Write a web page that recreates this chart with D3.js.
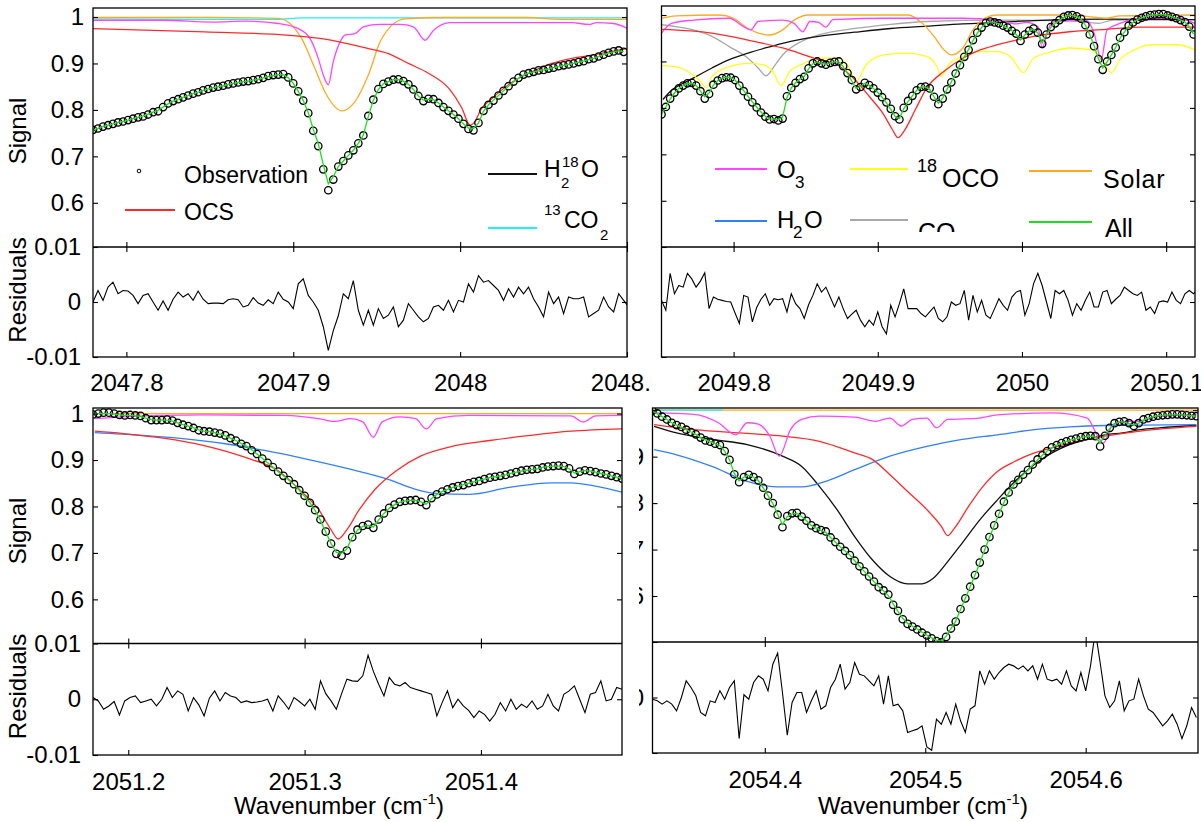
<!DOCTYPE html>
<html>
<head>
<meta charset="utf-8">
<script src="https://cdn.jsdelivr.net/npm/d3@7"></script>
<style>
  body { margin: 0; background: #fff; }
  svg { display: block; }
</style>
</head>
<body>
<svg id="chart" width="1201" height="822"></svg>
<script>

/*
 *  Spectral fit windows: observation, fitted total ("All"), molecular contributions
 *  and the residuals (residuals are stored in units of 1e-3).
 */

// shared tick values / labels
var sigTicks = [0.6, 0.7, 0.8, 0.9, 1];
var sigTickLabels = ["0.6", "0.7", "0.8", "0.9", "1"];
var resTicks = [-10, 0, 10];
var resTickLabels = ["-0.01", "0", "0.01"];
var resDomain = [-10, 10];

// ---------- window 1 : 2047.78 - 2048.10 ----------
var tlStart = 2047.78, tlStep = 0.003;
var tlTicks = [2047.8, 2047.9, 2048, 2048.1];
var tlTickLabels = ["2047.8", "2047.9", "2048", "2048.1"];
var tlObs = [
  .757,.760,.764,.767,.770,.773,.775,.778,.781,.784,
  .786,.790,.795,.797,.806,.814,.819,.823,.827,.831,
  .835,.838,.842,.845,.848,.850,.852,.855,.857,.859,
  .861,.862,.864,.866,.869,.873,.875,.876,.877,.870,
  .857,.840,.820,.793,.755,.722,.672,.627,.650,.678,
  .690,.702,.713,.728,.745,.787,.822,.845,.856,.861,
  .865,.866,.862,.855,.844,.830,.819,.824,.823,.815,
  .806,.798,.790,.781,.770,.759,.756,.772,.798,.811,
  .820,.831,.841,.851,.861,.869,.876,.879,.882,.885,
  .886,.889,.891,.894,.896,.898,.900,.903,.905,.909,
  .911,.915,.919,.923,.926,.928,.925];
var tlFit = [
  .757,.760,.764,.767,.770,.773,.775,.778,.781,.784,
  .787,.791,.795,.799,.806,.813,.819,.823,.827,.831,
  .835,.838,.842,.845,.848,.850,.852,.855,.857,.859,
  .861,.862,.864,.866,.869,.872,.874,.876,.876,.869,
  .857,.840,.820,.794,.758,.727,.682,.641,.656,.678,
  .690,.702,.713,.728,.746,.786,.821,.844,.856,.861,
  .865,.865,.862,.855,.844,.830,.821,.823,.822,.815,
  .806,.798,.790,.781,.770,.761,.760,.772,.797,.811,
  .821,.831,.841,.851,.860,.868,.875,.879,.882,.884,
  .886,.888,.891,.893,.896,.898,.900,.903,.905,.908,
  .911,.915,.919,.922,.925,.927,.926];
var tlRes = [
  0,2.1,.3,2.7,3.6,1.5,2.1,2.0,1.2,-.3,
  1.2,1.5,0,-1.5,.2,-1.5,.5,1.8,.9,1.5,
  .3,2.0,.5,-.3,-.2,-.2,-.3,.4,.6,.4,
  -.9,-.6,.8,-.2,-.6,.4,-.3,1.8,.5,0,
  -1.2,3.3,4.2,1.2,0,-1.5,-4.5,-8.8,-5.2,-2.5,
  1.5,.6,3.9,-1.5,-4.2,-1.5,-4.2,-1.2,-3,-2.4,
  -.9,-4.5,-3.3,-.3,-1.5,-2.7,-3.6,-3.0,-.9,-.6,
  -1.5,.3,-1.8,.3,0,3.3,1.8,4.8,3.6,3.9,
  3.0,2.1,.3,2.4,.9,2.7,1.5,2.7,.6,-.9,
  -2.7,1.8,-.3,.9,-2.1,.9,.6,.6,.9,-2.7,
  -2.1,-1.5,.9,-.9,-1.8,1.5,.3,-.9];
var tlOCS = [[2047.780,.975],[2047.847,.968],[2047.896,.961],[2047.920,.952],[2047.945,.932],[2047.957,.921],
  [2047.969,.900],[2047.981,.879],[2047.994,.843],[2048.001,.804],[2048.006,.767],[2048.008,.771],[2048.013,.804],
  [2048.018,.821],[2048.030,.857],[2048.043,.882],[2048.055,.900],[2048.067,.911],[2048.079,.918],[2048.100,.932]];
var tlO3 = [[2047.780,.993],[2047.822,.993],[2047.852,.989],[2047.871,.991],[2047.891,.986],[2047.903,.975],
  [2047.910,.954],[2047.915,.911],[2047.918,.875],[2047.921,.854],[2047.924,.904],[2047.928,.946],[2047.931,.961],
  [2047.937,.964],[2047.942,.979],[2047.952,.984],[2047.964,.984],[2047.972,.979],[2047.979,.950],[2047.984,.971],
  [2047.994,.988],[2048.018,.988],[2048.043,.988],[2048.067,.988],[2048.077,.984],[2048.082,.988],[2048.092,.986],[2048.100,.976]];
var tlSolar = [[2047.780,.999],[2047.850,.999],[2047.891,.997],[2047.898,.986],[2047.905,.954],[2047.913,.889],
  [2047.920,.832],[2047.929,.798],[2047.937,.818],[2047.945,.875],[2047.952,.946],[2047.959,.982],[2047.967,.996],
  [2047.990,.999],[2048.040,.999],[2048.060,.995],[2048.100,.995]];
var tl13CO2 = [[2047.780,.996],[2047.840,.995],[2047.890,.995],[2047.905,.998],[2048.100,.998]];

// ---------- window 2 : 2049.75 - 2050.12 ----------
var trStart = 2049.75, trStep = 0.003;
var trTicks = [2049.8, 2049.9, 2050, 2050.1];
var trTickLabels = ["2049.8", "2049.9", "2050", "2050.1"];
var trObs = [
  .786,.802,.820,.833,.842,.848,.853,.854,.848,.836,
  .820,.830,.850,.859,.864,.866,.865,.860,.848,.836,
  .824,.812,.801,.790,.781,.775,.776,.773,.777,.825,
  .843,.854,.862,.867,.885,.896,.900,.896,.893,.897,
  .899,.900,.890,.875,.860,.840,.845,.854,.849,.842,
  .833,.823,.812,.798,.782,.775,.800,.815,.826,.838,
  .845,.846,.842,.824,.808,.820,.840,.855,.874,.892,
  .910,.925,.946,.962,.973,.983,.986,.984,.982,.977,
  .973,.966,.960,.944,.958,.966,.971,.962,.938,.958,
  .974,.982,.989,.996,.999,1.000,.997,.992,.978,.958,
  .933,.905,.882,.900,.914,.930,.951,.963,.977,.984,
  .990,.994,.997,1.000,1.001,1.002,1.002,.999,.996,.993,
  .989,.985,.975,.958];
var trFit = [
  .786,.802,.819,.832,.842,.848,.852,.853,.848,.836,
  .824,.832,.849,.859,.864,.866,.865,.860,.849,.837,
  .825,.813,.802,.791,.782,.776,.776,.775,.780,.822,
  .843,.854,.862,.868,.884,.895,.899,.896,.894,.897,
  .899,.899,.889,.874,.858,.842,.846,.853,.849,.842,
  .833,.823,.811,.797,.782,.777,.798,.814,.826,.838,
  .845,.845,.840,.824,.810,.821,.840,.856,.874,.892,
  .910,.926,.945,.961,.973,.982,.985,.984,.981,.977,
  .972,.966,.958,.946,.957,.966,.970,.961,.940,.958,
  .973,.982,.989,.995,.999,.999,.996,.991,.978,.958,
  .934,.906,.886,.899,.914,.930,.950,.963,.976,.984,
  .990,.994,.997,.999,1.000,1.001,1.001,.999,.996,.993,
  .989,.985,.975,.959];
var trRes = [
  .3,-1.5,5.2,1.5,3.0,2.7,5.2,4.2,2.7,3.8,
  5.3,-1.2,.9,.5,.3,.1,0,-2.0,-3.9,1.2,
  .9,-3.6,-1.0,.5,1.5,-.6,.6,.4,.6,-1.8,
  1.5,-.3,-1.2,-3,-.5,1.2,3.3,1.8,2.7,.9,
  -.9,.9,-1.2,-3,-2.2,-1.5,-3.3,-4.5,-3.3,-4.2,
  -1.8,-4.5,-5.8,-.6,-2.7,-.3,2.4,-1.2,-1.2,-1.2,
  -2.1,-2.7,-1.8,-.9,-3,-3.6,-2.7,0,-.6,-.3,
  2.1,-3.3,1.2,-1.8,.3,-2.4,-3,-1.2,.6,-.6,
  -1.5,.9,1.8,2.1,-2.4,-.3,3.3,5.2,3.0,0,
  -3,2.1,1.5,2.1,.3,-2.4,-.3,-1.5,.3,1.8,
  -.9,-.9,1.8,2.1,-.3,.5,1.2,2.7,2.1,1.5,
  1.2,1.8,-1.5,-.9,-2.1,0,.2,0,1.8,.3,
  -.3,1.5,2.1,1.5,2.4];
var trOCS = [[2049.750,.969],[2049.785,.961],[2049.810,.946],[2049.834,.929],[2049.859,.904],[2049.872,.893],
  [2049.884,.861],[2049.894,.825],[2049.904,.786],[2049.910,.754],[2049.914,.736],[2049.919,.754],[2049.926,.796],
  [2049.934,.843],[2049.946,.879],[2049.959,.907],[2049.971,.925],[2049.983,.936],[2049.996,.946],[2050.008,.954],
  [2050.033,.964],[2050.058,.969],[2050.083,.974],[2050.120,.974]];
var trO3 = [[2049.750,.961],[2049.757,.982],[2049.772,.989],[2049.797,.993],[2049.807,.975],[2049.812,.968],
  [2049.817,.986],[2049.834,.989],[2049.842,.982],[2049.848,.964],[2049.853,.986],[2049.859,.984],[2049.864,.974],
  [2049.869,.990],[2049.909,.993],[2049.959,.993],[2049.983,.988],[2049.996,.981],[2050.003,.984],[2050.011,.975],
  [2050.014,.929],[2050.018,.968],[2050.023,.986],[2050.045,.988],[2050.050,.961],[2050.055,.904],[2050.059,.968],
  [2050.068,.982],[2050.083,.993],[2050.108,.993],[2050.120,.982]];
var trSolar = [[2049.750,.993],[2049.760,.998],[2049.790,1.0],[2049.800,.993],[2049.810,.971],[2049.825,.957],
  [2049.834,.968],[2049.842,.989],[2049.852,1.0],[2049.921,1.0],[2049.931,.982],[2049.939,.954],[2049.946,.925],
  [2049.951,.914],[2049.959,.929],[2049.966,.968],[2049.974,.993],[2049.983,1.0],[2050.033,1.0],[2050.048,.996],
  [2050.058,.993],[2050.068,.998],[2050.120,1.0]];
var tr18OCO = [[2049.750,.891],[2049.760,.889],[2049.770,.875],[2049.777,.857],[2049.781,.843],[2049.785,.868],
  [2049.797,.889],[2049.810,.896],[2049.820,.893],[2049.827,.879],[2049.833,.848],[2049.839,.879],[2049.849,.896],
  [2049.859,.907],[2049.872,.907],[2049.879,.893],[2049.885,.857],[2049.892,.893],[2049.904,.914],[2049.919,.918],
  [2049.934,.911],[2049.941,.889],[2049.944,.868],[2049.949,.893],[2049.959,.911],[2049.971,.921],[2049.983,.921],
  [2049.993,.907],[2050.001,.876],[2050.008,.907],[2050.021,.921],[2050.033,.929],[2050.048,.925],[2050.055,.907],
  [2050.062,.876],[2050.068,.904],[2050.078,.925],[2050.090,.936],[2050.108,.936],[2050.120,.925]];
var trCO = [[2049.750,.979],[2049.760,.975],[2049.772,.968],[2049.785,.954],[2049.797,.932],[2049.810,.907],
  [2049.817,.886],[2049.8225,.869],[2049.828,.889],[2049.834,.914],[2049.847,.943],[2049.859,.957],[2049.884,.971],
  [2049.909,.980],[2049.934,.986],[2049.983,.989],[2050.033,.988],[2050.053,.982],[2050.063,.989],[2050.120,.990]];
var trH218O = [[2049.751,.818],[2049.755,.832],[2049.772,.864],[2049.785,.886],[2049.797,.904],[2049.810,.918],
  [2049.822,.929],[2049.834,.939],[2049.859,.954],[2049.884,.963],[2049.909,.971],[2049.934,.976],[2049.959,.981],
  [2049.983,.984],[2050.008,.988],[2050.058,.991],[2050.120,.990]];

// ---------- window 3 : 2051.18 - 2051.48 ----------
var blStart = 2051.18, blStep = 0.003;
var blTicks = [2051.2, 2051.3, 2051.4];
var blTickLabels = ["2051.2", "2051.3", "2051.4"];
var blObs = [
  .998,1.000,1.002,1.002,1.000,.997,.996,.997,.996,.995,
  .990,.986,.986,.986,.987,.985,.980,.976,.973,.969,
  .964,.962,.961,.959,.957,.953,.947,.942,.935,.930,
  .921,.913,.903,.894,.885,.875,.866,.857,.848,.835,
  .823,.808,.792,.772,.746,.720,.698,.694,.705,.734,
  .750,.758,.761,.754,.772,.785,.797,.804,.810,.812,
  .813,.814,.810,.803,.818,.826,.832,.837,.841,.844,
  .846,.850,.853,.855,.859,.862,.864,.866,.868,.871,
  .874,.877,.879,.880,.881,.884,.886,.887,.888,.887,
  .882,.870,.875,.878,.876,.874,.871,.869,.866,.863,
  .860];
var blFit = [
  .999,1.000,1.000,1.000,.999,.997,.996,.996,.995,.994,
  .990,.987,.986,.986,.986,.984,.980,.976,.973,.969,
  .965,.962,.961,.959,.956,.952,.947,.942,.936,.930,
  .922,.913,.904,.894,.885,.875,.866,.857,.847,.835,
  .822,.808,.791,.770,.745,.720,.701,.699,.709,.734,
  .749,.757,.759,.756,.771,.785,.796,.804,.809,.812,
  .813,.813,.810,.805,.817,.826,.832,.837,.841,.844,
  .847,.850,.853,.856,.859,.862,.864,.866,.868,.871,
  .874,.876,.878,.880,.881,.884,.886,.887,.887,.886,
  .881,.872,.875,.877,.876,.874,.871,.869,.866,.863,
  .860];
var blRes = [
  .3,-.3,-1.8,-1.2,-.4,-2.8,-.3,.3,.6,-.6,
  -.3,0,-1.2,0,2.1,.3,1.5,.9,-2.1,.3,
  -1.0,-3,.2,1.5,-.3,1.2,.6,.3,-.6,-.3,
  -.6,-.5,-.3,0,-2.1,.6,-.5,-1.8,.3,-.4,
  -1.2,0,-1.8,3.3,1.0,-.3,-1.8,1.0,3.6,3.3,
  3.2,4.2,7.9,5.0,2.7,.6,3.9,2.7,2.4,3,
  2.1,1.8,1.5,1.2,.9,-3,-.6,1.5,-1.5,0,
  -1.2,-2.0,-3.3,-2.1,-2.7,-3.9,-2.7,-.6,-2.1,0,
  -1.8,-.9,-1.5,-.3,-1.8,-1.2,.9,-1.2,-2.1,.9,
  1.5,2.4,0,-2.4,.9,1.2,3.3,-.3,0,2.1,
  1.8];
var blOCS = [[2051.181,.962],[2051.197,.957],[2051.220,.947],[2051.243,.931],[2051.266,.906],[2051.285,.877],
  [2051.298,.833],[2051.308,.793],[2051.315,.750],[2051.319,.730],[2051.324,.750],[2051.331,.793],[2051.340,.837],
  [2051.352,.877],[2051.366,.909],[2051.382,.928],[2051.405,.942],[2051.428,.953],[2051.451,.962],[2051.480,.967]];
var blH2O = [[2051.181,.959],[2051.208,.953],[2051.231,.946],[2051.255,.935],[2051.278,.920],[2051.301,.902],
  [2051.324,.882],[2051.347,.859],[2051.363,.837],[2051.375,.828],[2051.393,.826],[2051.416,.841],[2051.440,.851],
  [2051.451,.851],[2051.465,.844],[2051.480,.831]];
var blO3 = [[2051.181,.989],[2051.197,.993],[2051.220,.996],[2051.243,.997],[2051.289,.996],[2051.308,.989],
  [2051.317,.983],[2051.326,.989],[2051.333,.982],[2051.339,.949],[2051.344,.982],[2051.354,.993],[2051.363,.989],
  [2051.369,.967],[2051.375,.989],[2051.393,.996],[2051.451,.995],[2051.458,.982],[2051.465,.995],[2051.480,.996]];
var blSolar = [[2051.180,1.0],[2051.480,1.0]];

// ---------- window 4 : 2054.33 - 2054.67 ----------
var brStart = 2054.33, brStep = 0.003;
var brTicks = [2054.4, 2054.5, 2054.6];
var brTickLabels = ["2054.4", "2054.5", "2054.6"];
var brObs = [
  .999,.993,.986,.980,.973,.968,.964,.958,.953,.948,
  .941,.935,.932,.928,.925,.912,.893,.862,.845,.856,
  .861,.856,.849,.833,.816,.800,.775,.748,.772,.778,
  .779,.771,.762,.752,.746,.742,.739,.726,.716,.706,
  .697,.688,.676,.664,.653,.642,.631,.619,.612,.603,
  .581,.568,.550,.540,.534,.528,.521,.515,.509,.503,
  .500,.512,.530,.545,.572,.595,.620,.645,.672,.700,
  .727,.752,.777,.803,.823,.840,.850,.861,.871,.883,
  .894,.903,.912,.920,.925,.929,.933,.936,.939,.942,
  .944,.945,.944,.922,.945,.962,.972,.975,.976,.972,
  .966,.972,.980,.983,.986,.988,.989,.990,.991,.991,
  .990,.989,.988,.987];
var brFit = [
  .998,.992,.986,.980,.973,.968,.963,.958,.953,.948,
  .941,.936,.932,.928,.924,.912,.893,.864,.848,.856,
  .860,.856,.848,.833,.816,.799,.776,.754,.771,.777,
  .778,.771,.762,.752,.746,.741,.737,.726,.716,.706,
  .697,.688,.676,.664,.653,.642,.631,.620,.611,.601,
  .583,.567,.552,.541,.535,.529,.522,.516,.510,.505,
  .503,.513,.530,.546,.571,.595,.620,.645,.671,.699,
  .726,.752,.777,.801,.822,.838,.850,.861,.871,.882,
  .893,.903,.912,.919,.925,.929,.933,.936,.939,.941,
  .943,.944,.942,.930,.945,.961,.971,.975,.975,.971,
  .968,.972,.979,.983,.986,.988,.989,.990,.990,.990,
  .990,.989,.988,.987];
var brRes = [
  -.3,-.6,-1.2,-.6,-1.2,-2.4,0,3,1.8,.3,
  -2.7,-3.3,-.6,-.9,1.2,-.3,1.8,3,-7.4,.5,
  -.3,2.7,3.9,3.3,1.2,6,8,.9,-6.8,-.9,
  .9,.9,-2.7,-.6,1.2,-2.1,-1.5,1.8,3.3,6,
  1.5,2.7,6.3,4.2,3.9,3,2.1,3.9,-1.2,3.9,
  -1.5,-1.2,-2.4,-6.3,-6,-5.7,-5.1,-8.9,-9.5,-3.9,
  -4.8,-2.7,-4.8,-1.2,-4.2,-6.3,-2.1,-1.5,4.8,2.4,
  4.8,3.3,4.5,5.4,6,5.7,5.1,5.7,4.8,5.7,
  3.3,6,3.3,3,3.3,2.4,4.8,2.1,1.2,4.5,
  1.2,5.7,12,6.3,.3,-1.8,-.6,3,-2.4,-.6,
  -.3,3.3,.3,-2.1,-2.7,-3.9,-5.1,-4.2,-3,-4.8,
  -7.4,-5.1,-1.8,-3.6];
var brH218O = [[2054.331,.965],[2054.345,.951],[2054.367,.937],[2054.389,.926],[2054.411,.901],[2054.423,.879],
  [2054.434,.836],[2054.445,.786],[2054.456,.728],[2054.467,.678],[2054.478,.642],[2054.489,.626],[2054.498,.626],
  [2054.505,.638],[2054.514,.674],[2054.523,.714],[2054.534,.764],[2054.545,.807],[2054.556,.847],[2054.568,.883],
  [2054.579,.908],[2054.590,.926],[2054.601,.937],[2054.612,.947],[2054.623,.951],[2054.634,.958],[2054.646,.962],[2054.669,.967]];
var brOCS = [[2054.331,.969],[2054.356,.958],[2054.389,.950],[2054.411,.944],[2054.434,.933],[2054.456,.908],
  [2054.467,.894],[2054.478,.861],[2054.489,.825],[2054.501,.786],[2054.510,.750],[2054.514,.730],[2054.518,.745],
  [2054.527,.793],[2054.536,.836],[2054.545,.868],[2054.556,.890],[2054.568,.908],[2054.579,.919],[2054.590,.929],
  [2054.612,.944],[2054.634,.955],[2054.669,.965]];
var brH2O = [[2054.331,.915],[2054.345,.904],[2054.367,.879],[2054.389,.847],[2054.407,.835],[2054.423,.835],
  [2054.438,.847],[2054.456,.872],[2054.478,.901],[2054.501,.922],[2054.523,.937],[2054.545,.947],[2054.568,.958],
  [2054.590,.964],[2054.612,.967],[2054.669,.969]];
var brO3 = [[2054.331,.994],[2054.356,.991],[2054.371,.973],[2054.382,.947],[2054.389,.973],[2054.396,.970],
  [2054.403,.945],[2054.409,.901],[2054.416,.958],[2054.423,.980],[2054.434,.987],[2054.456,.985],[2054.469,.976],
  [2054.478,.983],[2054.485,.966],[2054.492,.980],[2054.501,.983],[2054.507,.962],[2054.514,.980],[2054.534,.983],
  [2054.545,.990],[2054.579,.994],[2054.601,.983],[2054.607,.947],[2054.611,.929],[2054.617,.969],[2054.626,.976],
  [2054.634,.976],[2054.646,.987],[2054.669,.990]];
var brSolar = [[2054.330,1.0],[2054.670,1.0]];
var br13CO2 = [[2054.330,1.0],[2054.374,1.0]];   // only the visible stretch

// colours of the species
var C = {
  fit: "#20dd20", ocs: "#ff2b2b", o3: "#ff45ff", solar: "#ffaa22", c13: "#1ff0ff",
  oco18: "#ffff1a", co: "#a8a8a8", h2o: "#2f80ff", h218o: "#111111"
};
var FONT = "'Liberation Sans', Arial, Helvetica, sans-serif";

var svg = d3.select("#chart");
var defs = svg.append("defs");

// attach the wavenumber grid to a list of sampled values
function onGrid(start, step, values) {
  return values.map(function(v, i) { return [start + i * step, v]; });
}

function clipRect(id, x, y, w, h) {
  defs.append("clipPath").attr("id", id).append("rect")
      .attr("x", x).attr("y", y).attr("width", w).attr("height", h);
  return "url(#" + id + ")";
}

function styleAxis(sel, size) {
  sel.attr("font-family", null).attr("font-size", null);
  sel.select(".domain").remove();
  sel.selectAll(".tick line").attr("stroke", "#000").attr("stroke-width", 1.1);
  sel.selectAll(".tick text").attr("font-family", FONT).attr("font-size", size).attr("fill", "#000");
}

/*
 *  one window = signal panel on top of residual panel
 */
function drawPanel(p) {
  var g = svg.append("g").attr("clip-path", clipRect(p.id + "-all", p.box[0], p.box[1], p.box[2], p.box[3]));

  var x = d3.scaleLinear().domain(p.xDomain).range([p.x0, p.x1]);
  var ySig = d3.scaleLinear().domain(p.sigDomain).range([p.yDiv, p.yTop]);
  var yRes = d3.scaleLinear().domain(resDomain).range([p.yBot, p.yDiv]);

  var smooth = d3.line().curve(d3.curveMonotoneX)
      .x(function(d) { return x(d[0]); }).y(function(d) { return ySig(d[1]); });
  var straight = d3.line()
      .x(function(d) { return x(d[0]); }).y(function(d) { return ySig(d[1]); });
  var resLine = d3.line()
      .x(function(d) { return x(d[0]); }).y(function(d) { return yRes(d[1]); });

  // signal panel
  var sig = g.append("g").attr("clip-path", clipRect(p.id + "-sig", p.x0, p.yTop, p.x1 - p.x0, p.yDiv - p.yTop));
  p.comps.forEach(function(c) {
    sig.append("path").datum(c[0]).attr("d", smooth)
        .attr("fill", "none").attr("stroke", c[1]).attr("stroke-width", 1.3);
  });
  sig.selectAll(".obs").data(onGrid(p.start, p.step, p.obs)).enter()
      .append("circle").attr("class", "obs")
      .attr("cx", function(d) { return x(d[0]); })
      .attr("cy", function(d) { return ySig(d[1]); })
      .attr("r", 3.7).attr("fill", "none").attr("stroke", "#000").attr("stroke-width", 1.3);
  sig.append("path").datum(onGrid(p.start, p.step, p.fit)).attr("d", straight)
      .attr("fill", "none").attr("stroke", C.fit).attr("stroke-width", 1.3);

  // residual panel
  var res = g.append("g").attr("clip-path", clipRect(p.id + "-res", p.x0, p.yDiv, p.x1 - p.x0, p.yBot - p.yDiv));
  res.append("path").datum(onGrid(p.start, p.step, p.res)).attr("d", resLine)
      .attr("fill", "none").attr("stroke", "#000").attr("stroke-width", 1.1);

  // frames
  g.append("rect").attr("x", p.x0).attr("y", p.yTop).attr("width", p.x1 - p.x0).attr("height", p.yBot - p.yTop)
      .attr("fill", "none").attr("stroke", "#000").attr("stroke-width", 1.3);
  g.append("line").attr("x1", p.x0).attr("x2", p.x1).attr("y1", p.yDiv).attr("y2", p.yDiv)
      .attr("stroke", "#000").attr("stroke-width", 1.3);

  // x axes (ticks pointing inwards)
  g.append("g").attr("transform", "translate(0," + p.yBot + ")")
      .call(d3.axisBottom(x).tickValues(p.xTicks).tickFormat(function(d, i) { return p.xLabels[i]; })
          .tickSizeInner(-5).tickSizeOuter(0).tickPadding(p.xPad))
      .call(styleAxis, 24);
  g.append("g").attr("transform", "translate(0," + p.yDiv + ")")
      .call(d3.axisTop(x).tickValues(p.xTicks).tickFormat("").tickSizeInner(-5).tickSizeOuter(0))
      .call(styleAxis, 24);
  g.append("g").attr("transform", "translate(0," + p.yDiv + ")")
      .call(d3.axisBottom(x).tickValues(p.xTicks).tickFormat("").tickSizeInner(-5).tickSizeOuter(0))
      .call(styleAxis, 24);

  // y axes
  var showLabels = p.yLabels === true;
  g.append("g").attr("transform", "translate(" + p.x0 + ",0)")
      .call(d3.axisLeft(ySig).tickValues(sigTicks)
          .tickFormat(function(d, i) { return showLabels ? sigTickLabels[i] : ""; })
          .tickSizeInner(-5).tickSizeOuter(0).tickPadding(9))
      .call(styleAxis, 24);
  g.append("g").attr("transform", "translate(" + p.x1 + ",0)")
      .call(d3.axisRight(ySig).tickValues(sigTicks).tickFormat("").tickSizeInner(-5).tickSizeOuter(0))
      .call(styleAxis, 24);
  g.append("g").attr("transform", "translate(" + p.x0 + ",0)")
      .call(d3.axisLeft(yRes).tickValues(resTicks)
          .tickFormat(function(d, i) { return showLabels ? resTickLabels[i] : ""; })
          .tickSizeInner(-5).tickSizeOuter(0).tickPadding(12))
      .call(styleAxis, 24);
  g.append("g").attr("transform", "translate(" + p.x1 + ",0)")
      .call(d3.axisRight(yRes).tickValues([0]).tickFormat("").tickSizeInner(-5).tickSizeOuter(0))
      .call(styleAxis, 24);

  // right-hand window: only the cut-off ends of its tick labels show
  if (p.yLabels === "stub") {
    var stub = svg.append("g").attr("clip-path", clipRect(p.id + "-stub", 639, p.yTop, 5, p.yBot - p.yTop));
    stub.append("g").attr("transform", "translate(" + p.x0 + ",0)")
        .call(d3.axisLeft(ySig).tickValues(sigTicks.slice(0, 4))
            .tickFormat(function(d, i) { return sigTickLabels[i]; })
            .tickSize(0).tickPadding(p.x0 - 644))
        .call(styleAxis, 24);
    stub.append("g").attr("transform", "translate(" + p.x0 + ",0)")
        .call(d3.axisLeft(yRes).tickValues([0]).tickFormat(function() { return "0"; })
            .tickSize(0).tickPadding(p.x0 - 644))
        .call(styleAxis, 24);
  }

  if (p.yTitles) {
    g.append("text").attr("transform", "translate(26," + (p.yTop + 123) + ") rotate(-90)")
        .attr("text-anchor", "middle").attr("font-family", FONT).attr("font-size", 24).text("Signal");
    g.append("text").attr("transform", "translate(26," + (p.yDiv + 43) + ") rotate(-90)")
        .attr("text-anchor", "middle").attr("font-family", FONT).attr("font-size", 24).text("Residuals");
  }
  if (p.xTitle) {
    var t = g.append("text").attr("x", p.xTitle).attr("y", 814).attr("text-anchor", "middle")
        .attr("font-family", FONT).attr("font-size", 24);
    t.append("tspan").text("Wavenumber (cm");
    t.append("tspan").attr("font-size", 15).attr("dy", -10).text("-1");
    t.append("tspan").attr("dy", 10).text(")");
  }
  return g;
}

var tl = drawPanel({
  id: "tl", box: [0, 0, 651, 405], x0: 93, x1: 627, xDomain: [2047.78, 2048.10],
  yTop: 8, yDiv: 247, yBot: 357, sigDomain: [0.5048, 1.0194], xPad: 17,
  xTicks: tlTicks, xLabels: tlTickLabels, start: tlStart, step: tlStep,
  obs: tlObs, fit: tlFit, res: tlRes, yLabels: true, yTitles: true,
  comps: [[tl13CO2, C.c13], [tlSolar, C.solar], [tlO3, C.o3], [tlOCS, C.ocs]]
});
var tr = drawPanel({
  id: "tr", box: [640, 0, 561, 405], x0: 661.5, x1: 1195, xDomain: [2049.75, 2050.12],
  yTop: 6, yDiv: 247, yBot: 357, sigDomain: [0.5005, 1.0194], xPad: 17,
  xTicks: trTicks, xLabels: trTickLabels, start: trStart, step: trStep,
  obs: trObs, fit: trFit, res: trRes, yLabels: false,
  comps: [[trCO, C.co], [trH218O, C.h218o], [tr18OCO, C.oco18], [trSolar, C.solar], [trO3, C.o3], [trOCS, C.ocs]]
});
var bl = drawPanel({
  id: "bl", box: [0, 405, 640, 417], x0: 93, x1: 622, xDomain: [2051.18, 2051.48],
  yTop: 408, yDiv: 643.5, yBot: 755, sigDomain: [0.505, 1.012], xPad: 18,
  xTicks: blTicks, xLabels: blTickLabels, start: blStart, step: blStep,
  obs: blObs, fit: blFit, res: blRes, yLabels: true, yTitles: true, xTitle: 339,
  comps: [[blH2O, C.h2o], [blOCS, C.ocs], [blSolar, C.solar], [blO3, C.o3]]
});
var br = drawPanel({
  id: "br", box: [640, 405, 561, 417], x0: 652.5, x1: 1198, xDomain: [2054.33, 2054.67],
  yTop: 408, yDiv: 642, yBot: 753, sigDomain: [0.501, 1.0047], xPad: 18,
  xTicks: brTicks, xLabels: brTickLabels, start: brStart, step: brStep,
  obs: brObs, fit: brFit, res: brRes, yLabels: "stub", xTitle: 923,
  comps: [[brH218O, C.h218o], [brH2O, C.h2o], [brOCS, C.ocs], [brO3, C.o3], [brSolar, C.solar], [br13CO2, C.c13]]
});

/*
 *  legends
 */
function legLine(g, x1, x2, y, color) {
  g.append("line").attr("x1", x1).attr("x2", x2).attr("y1", y).attr("y2", y)
      .attr("stroke", color).attr("stroke-width", 2);
}
function legText(g, x, y, size, str) {
  return g.append("text").attr("x", x).attr("y", y).attr("font-family", FONT)
      .attr("font-size", size).attr("fill", "#000").text(str);
}

// window 1 legend
tl.append("circle").attr("cx", 139).attr("cy", 171).attr("r", 1.8)
    .attr("fill", "none").attr("stroke", "#000").attr("stroke-width", 1);
legText(tl, 184, 183, 23, "Observation");
legLine(tl, 125, 175, 210, C.ocs);
legText(tl, 184, 220, 23, "OCS");
legLine(tl, 488, 537, 174, C.h218o);
legText(tl, 544, 177, 23, "H");
legText(tl, 561, 188, 15, "2");
legText(tl, 562, 167, 15, "18");
legText(tl, 581, 177, 23, "O");
legLine(tl, 488, 537, 228, C.c13);
legText(tl, 544, 215, 15, "13");
legText(tl, 564, 228, 23, "CO");
legText(tl, 600, 240, 15, "2");

// window 2 legend
legLine(tr, 715, 767, 169, C.o3);
legText(tr, 777, 178, 24, "O");
legText(tr, 795, 188, 17, "3");
legLine(tr, 850, 908, 169, C.oco18);
legText(tr, 917, 172, 18, "18");
legText(tr, 942, 187, 25, "OCO");
legLine(tr, 1029, 1092, 171, C.solar);
legText(tr, 1103, 188, 25, "Solar").attr("letter-spacing", 0.8);
legLine(tr, 715, 767, 221, C.h2o);
legText(tr, 777, 228, 24, "H");
legText(tr, 793, 238, 17, "2");
legText(tr, 804, 228, 24, "O");
legLine(tr, 850, 908, 220, C.co);
var coClip = tr.append("g").attr("clip-path", clipRect("co-cut", 900, 200, 80, 32));
legText(coClip, 918, 241, 25, "CO");
legLine(tr, 1029, 1092, 222, C.fit);
legText(tr, 1105, 237, 25, "All");

</script>
</body>
</html>
